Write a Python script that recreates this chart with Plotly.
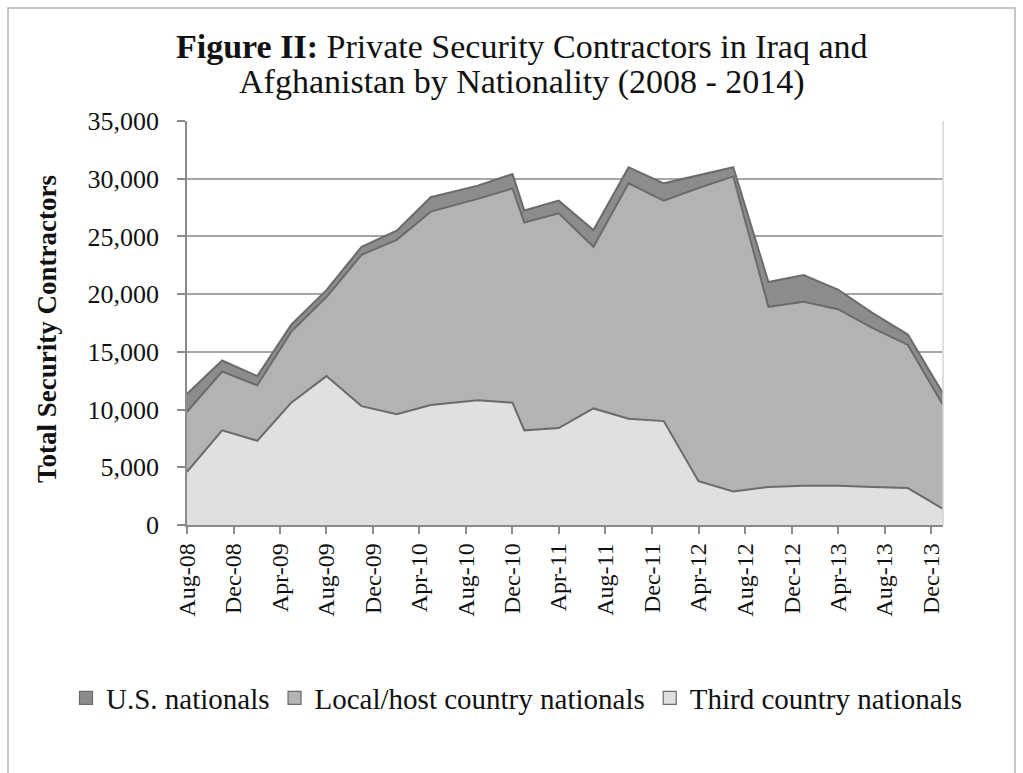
import plotly.graph_objects as go

# Reporting dates (first of month)
dates = ["2008-08-01", "2008-11-01", "2009-02-01", "2009-05-01", "2009-08-01",
         "2009-11-01", "2010-02-01", "2010-05-01", "2010-09-01", "2010-12-01",
         "2011-01-01", "2011-04-01", "2011-07-01", "2011-10-01", "2012-01-01",
         "2012-04-01", "2012-07-01", "2012-10-01", "2013-01-01", "2013-04-01",
         "2013-07-01", "2013-10-01", "2014-01-01"]

third_country = [4600, 8200, 7300, 10600, 12900, 10300, 9600, 10400, 10800, 10600,
                 8200, 8400, 10100, 9200, 9000, 3800, 2900, 3300, 3400, 3400,
                 3300, 3200, 1400]
local_host = [5200, 5100, 4800, 6150, 6850, 13100, 15100, 16750, 17450, 18550,
              18000, 18600, 14000, 20400, 19100, 25400, 27300, 15600, 15950, 15300,
              13750, 12400, 9000]
us_nationals = [1550, 950, 800, 600, 600, 700, 800, 1250, 1150, 1250,
                1050, 1100, 1450, 1400, 1500, 1100, 800, 2150, 2300, 1700,
                1300, 900, 1000]

tick_dates = ["2008-08-01", "2008-12-01", "2009-04-01", "2009-08-01", "2009-12-01",
              "2010-04-01", "2010-08-01", "2010-12-01", "2011-04-01", "2011-08-01",
              "2011-12-01", "2012-04-01", "2012-08-01", "2012-12-01", "2013-04-01",
              "2013-08-01", "2013-12-01"]
tick_labels = ["Aug-08", "Dec-08", "Apr-09", "Aug-09", "Dec-09", "Apr-10", "Aug-10",
               "Dec-10", "Apr-11", "Aug-11", "Dec-11", "Apr-12", "Aug-12", "Dec-12",
               "Apr-13", "Aug-13", "Dec-13"]

series_names = ["Third country nationals", "Local/host country nationals", "U.S. nationals"]
fill_colors = ["#e0e0e0", "#b3b3b3", "#8c8c8c"]
series_values = [third_country, local_host, us_nationals]

FONT = "Liberation Serif, Times New Roman, serif"

fig = go.Figure()
for name, vals, col in zip(series_names, series_values, fill_colors):
    fig.add_trace(go.Scatter(
        x=dates, y=vals, name=name, mode="lines", stackgroup="one",
        fillcolor=col, line=dict(color="#6b6b6b", width=2),
        showlegend=False, hoverinfo="x+y+name"))

# legend entries with square swatches (US first)
for name, col in zip(series_names[::-1], fill_colors[::-1]):
    fig.add_trace(go.Scatter(
        x=[None], y=[None], name=name, mode="markers",
        marker=dict(symbol="square", size=13, color=col,
                    line=dict(color="#6b6b6b", width=1.2)),
        showlegend=True))

W, H = 1023, 773
L, R, T, B = 187, 943, 121, 525
pw, ph = R - L, B - T

def px(x):
    return (x - L) / pw

def py(y):
    return (B - y) / ph

fig.update_layout(
    width=W, height=H,
    margin=dict(l=L, r=W - R, t=T, b=H - B, pad=0),
    paper_bgcolor="white", plot_bgcolor="white",
    font=dict(family=FONT, size=24, color="#111111"),
    showlegend=True,
    legend=dict(orientation="h", x=px(66), y=py(698), xanchor="left", yanchor="middle",
                traceorder="normal", font=dict(size=29, family=FONT, color="#111111"),
                itemwidth=30, tracegroupgap=0, bgcolor="rgba(0,0,0,0)"),
    xaxis=dict(type="date", range=["2008-08-01", "2014-01-01"],
               tickmode="array", tickvals=tick_dates, ticktext=tick_labels,
               tickangle=-90, ticks="outside", ticklen=7, tickcolor="#8a8a8a", tickwidth=1.5,
               showline=True, linecolor="#8a8a8a", linewidth=1.5,
               showgrid=False, zeroline=False,
               tickfont=dict(size=24, family=FONT, color="#111111")),
    yaxis=dict(range=[0, 35000], dtick=5000, tickformat=",", ticksuffix="  ",
               ticks="outside", ticklen=8, tickcolor="#8a8a8a", tickwidth=1.5,
               showline=True, linecolor="#8a8a8a", linewidth=1.5,
               showgrid=True, gridcolor="#a6a6a6", gridwidth=1.5, zeroline=False,
               tickfont=dict(size=26, family=FONT, color="#111111")),
    annotations=[
        dict(text="<b>Figure II:</b> Private Security Contractors in Iraq and",
             x=px(522), y=py(46), xref="paper", yref="paper",
             xanchor="center", yanchor="middle", showarrow=False,
             font=dict(size=34, family=FONT, color="#111111")),
        dict(text="Afghanistan by Nationality (2008 - 2014)",
             x=px(522), y=py(82), xref="paper", yref="paper",
             xanchor="center", yanchor="middle", showarrow=False,
             font=dict(size=34, family=FONT, color="#111111")),
        dict(text="<b>Total Security Contractors</b>", textangle=-90,
             x=px(47), y=py(329), xref="paper", yref="paper",
             xanchor="center", yanchor="middle", showarrow=False,
             font=dict(size=27, family=FONT, color="#111111")),
    ],
    shapes=[
        dict(type="line", xref="paper", yref="paper", x0=1, x1=1, y0=0, y1=1,
             line=dict(color="#d4d4d4", width=1.5), layer="above"),
        dict(type="rect", xref="paper", yref="paper",
             x0=px(8), x1=px(1015), y0=py(8), y1=py(790),
             line=dict(color="#b4b4b4", width=1.5), layer="below"),
    ],
)

fig.write_html("out.html")
